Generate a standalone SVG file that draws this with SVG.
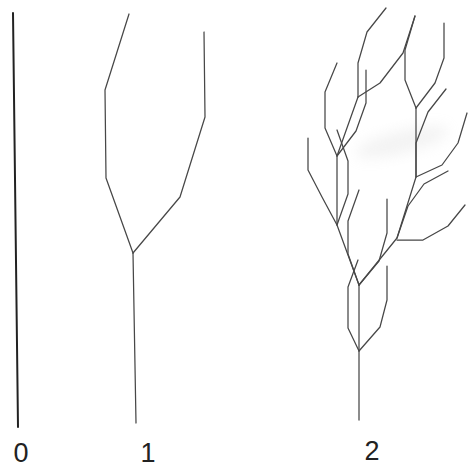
<svg xmlns="http://www.w3.org/2000/svg" width="468" height="470" viewBox="0 0 468 470">
  <style>
    .stem { fill: none; stroke: #474747; stroke-width: 1.25; stroke-linecap: round; stroke-linejoin: round; }
    .axiom { fill: none; stroke: #222; stroke-width: 2; stroke-linecap: round; }
    .label { font-family: "Liberation Sans", Arial, Helvetica, sans-serif; font-size: 27px; fill: #222; text-anchor: middle; }
  </style>
  <defs>
    <filter id="soft" x="-50%" y="-50%" width="200%" height="200%">
      <feGaussianBlur stdDeviation="7"/>
    </filter>
  </defs>
  <rect width="468" height="470" fill="#ffffff"/>

  <!-- faint smudge on the paper -->
  <ellipse cx="402" cy="142" rx="48" ry="11" fill="#c8c8c8" opacity="0.22" filter="url(#soft)" transform="rotate(-14 402 142)"/>

  <!-- generation 0: the axiom, a single stroke -->
  <g id="gen0">
    <line class="axiom" x1="13" y1="13" x2="18" y2="427"/>
    <text class="label" x="21" y="462">0</text>
  </g>

  <!-- generation 1: trunk with two three-segment branches -->
  <g id="gen1">
    <polyline class="stem" points="136,423 133,253"/>
    <polyline class="stem" points="133,253 106,178 105,90 129,14"/>
    <polyline class="stem" points="133,253 180,197 205,117 204,32"/>
    <text class="label" x="148" y="462">1</text>
  </g>

  <!-- generation 2: every segment replaced by a trunk pair with two side shoots -->
  <g id="gen2">
    <!-- main axis -->
    <polyline class="stem" points="359,420 359,351 359,285"/>
    <polyline class="stem" points="359,285 337,225 337,156 358,97"/>
    <polyline class="stem" points="359,285 397,238 416,177 416,108"/>
    <!-- side shoots at each joint -->
    <polyline class="stem" points="359,351 348,328 348,287 358,260"/>
    <polyline class="stem" points="359,351 380,327 387,300 387,266"/>
    <polyline class="stem" points="359,285 348,254 348,221 359,190"/>
    <polyline class="stem" points="359,285 379,261 387,233 387,199"/>
    <polyline class="stem" points="337,225 322,197 308,170 308,138"/>
    <polyline class="stem" points="337,225 348,194 348,161 337,130"/>
    <polyline class="stem" points="337,156 325,128 325,92 337,63"/>
    <polyline class="stem" points="337,156 356,131 366,103 366,70"/>
    <polyline class="stem" points="358,97 358,63 367,32 386,8"/>
    <polyline class="stem" points="358,97 380,83 403,53 415,16"/>
    <polyline class="stem" points="397,238 408,206 424,184 448,171"/>
    <polyline class="stem" points="397,240 423,240 448,226 465,205"/>
    <polyline class="stem" points="416,177 416,143 428,112 446,89"/>
    <polyline class="stem" points="416,177 442,165 458,143 467,113"/>
    <polyline class="stem" points="416,108 405,80 405,50 415,16"/>
    <polyline class="stem" points="416,108 435,83 444,58 444,23"/>
    <text class="label" x="372" y="460">2</text>
  </g>
</svg>
